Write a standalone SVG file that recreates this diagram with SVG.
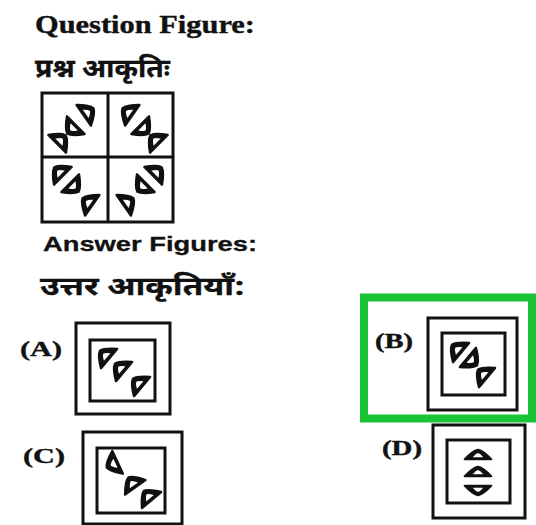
<svg xmlns="http://www.w3.org/2000/svg" width="536" height="525" viewBox="0 0 536 525">
<style>
.t{font-family:"Liberation Serif","Times New Roman",serif;font-weight:bold;fill:#111;stroke:#111;stroke-width:0.4}
.s{font-family:"Liberation Sans",Arial,sans-serif;font-weight:bold;fill:#111;stroke:#111;stroke-width:0.3}
.h{font-family:"Noto Sans Devanagari","Noto Sans","Lohit Devanagari",sans-serif;font-weight:bold;fill:#111;stroke:#111;stroke-width:0.3}
.fr{fill:none;stroke:#111;stroke-width:3}
.hl{fill:#111;stroke:#111;stroke-width:2.4;stroke-linejoin:round}
.hole{fill:#fff}
</style>
<defs>
<g id="hl">
<path class="hl" d="M-12.5,4 Q-5,-6.5 0,-8 Q5,-6.5 12.5,4 Z"/>
<path class="hole" d="M-5,1.6 Q-2,-3 0,-3.6 Q2,-3 5,1.6 Z"/>
</g>
</defs>
<rect width="536" height="525" fill="#fff"/>
<text class="t" x="35" y="33" font-size="26" textLength="220" lengthAdjust="spacingAndGlyphs">Question Figure:</text>
<text class="h" x="35" y="77" font-size="26" textLength="135" lengthAdjust="spacingAndGlyphs">प्रश्न आकृतिः</text>
<g id="question">
<rect class="fr" x="42" y="93" width="131" height="129"/>
<line class="fr" x1="108" y1="93" x2="108" y2="222"/>
<line class="fr" x1="42" y1="157" x2="173" y2="157"/>
<use href="#hl" transform="translate(87,113) rotate(55)"/>
<use href="#hl" transform="translate(73,128) rotate(225)"/>
<use href="#hl" transform="translate(60,141) rotate(45)"/>
<use href="#hl" transform="translate(129,113) rotate(-55)"/>
<use href="#hl" transform="translate(143,128) rotate(135)"/>
<use href="#hl" transform="translate(156,141) rotate(-45)"/>
<use href="#hl" transform="translate(60,173) rotate(-45)"/>
<use href="#hl" transform="translate(73,186) rotate(135)"/>
<use href="#hl" transform="translate(89,203) rotate(-55)"/>
<use href="#hl" transform="translate(156,173) rotate(45)"/>
<use href="#hl" transform="translate(143,186) rotate(225)"/>
<use href="#hl" transform="translate(127,203) rotate(55)"/>
</g>
<text class="s" x="43" y="251" font-size="21" textLength="214" lengthAdjust="spacingAndGlyphs">Answer Figures:</text>
<text class="h" x="40" y="295" font-size="25" textLength="205" lengthAdjust="spacingAndGlyphs">उत्तर आकृतियाँ:</text>
<g id="optA">
<text class="t" x="20" y="356" font-size="22" textLength="42" lengthAdjust="spacingAndGlyphs">(A)</text>
<rect class="fr" x="76" y="323" width="94" height="91"/>
<rect class="fr" x="90" y="340" width="65" height="61"/>
<use href="#hl" transform="translate(106,356) rotate(-50)"/>
<use href="#hl" transform="translate(121,369) rotate(-50)"/>
<use href="#hl" transform="translate(139,384) rotate(-50)"/>
</g>
<g id="optB">
<rect x="364" y="297.5" width="168" height="121" fill="none" stroke="#19c437" stroke-width="8"/>
<text class="t" x="375" y="348" font-size="20" textLength="38" lengthAdjust="spacingAndGlyphs">(B)</text>
<rect class="fr" x="428" y="318" width="89" height="92"/>
<rect class="fr" x="442" y="333" width="63" height="62"/>
<use href="#hl" transform="translate(458,350) rotate(-50)"/>
<use href="#hl" transform="translate(471,360) rotate(130)"/>
<use href="#hl" transform="translate(484,375) rotate(-50)"/>
</g>
<g id="optC">
<text class="t" x="23" y="463" font-size="22" textLength="42" lengthAdjust="spacingAndGlyphs">(C)</text>
<rect class="fr" x="83" y="432" width="99" height="92"/>
<rect class="fr" x="97" y="448" width="68" height="65"/>
<use href="#hl" transform="translate(114,464) rotate(-115)"/>
<use href="#hl" transform="translate(133,484) rotate(-35)"/>
<use href="#hl" transform="translate(149,497) rotate(-40)"/>
</g>
<g id="optD">
<text class="t" x="382" y="455" font-size="20" textLength="40" lengthAdjust="spacingAndGlyphs">(D)</text>
<rect class="fr" x="433" y="425" width="92" height="93"/>
<rect class="fr" x="447" y="440" width="63" height="63"/>
<use href="#hl" transform="translate(478,456) scale(1.05,0.8)"/>
<use href="#hl" transform="translate(478,473) scale(1.05,0.8)"/>
<use href="#hl" transform="translate(478,489) rotate(180) scale(1.05,0.8)"/>
</g>
</svg>
